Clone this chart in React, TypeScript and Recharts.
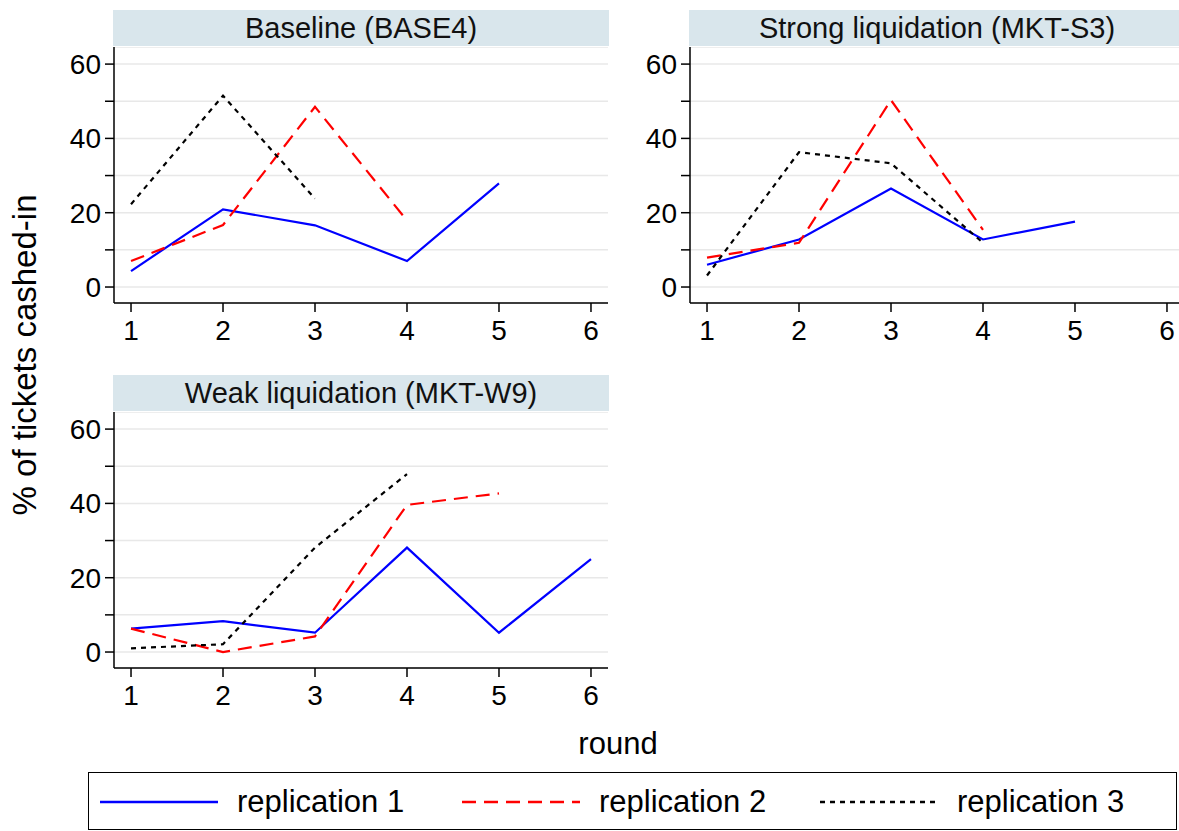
import { LineChart, Line, XAxis, YAxis, CartesianGrid } from 'recharts';

const rounds = [1, 2, 3, 4, 5, 6];

// Baseline (BASE4)
const baseRep1 = [4.3, 20.9, 16.6, 7.0, 27.9, null];
const baseRep2 = [7.0, 16.7, 48.5, 17.9, null, null];
const baseRep3 = [22.3, 51.5, 23.8, null, null, null];

// Strong liquidation (MKT-S3)
const strongRep1 = [6.0, 12.8, 26.5, 12.8, 17.6, null];
const strongRep2 = [7.9, 11.9, 50.3, 15.4, null, null];
const strongRep3 = [3.1, 36.3, 33.3, 11.9, null, null];

// Weak liquidation (MKT-W9)
const weakRep1 = [6.3, 8.3, 5.2, 28.1, 5.2, 25.0];
const weakRep2 = [6.3, 0.0, 4.2, 39.6, 42.7, null];
const weakRep3 = [1.0, 2.1, 28.1, 47.9, null, null];

const yTicks = [0, 10, 20, 30, 40, 50, 60];
const seriesNames = ['replication 1', 'replication 2', 'replication 3'];

const FONT = '"Liberation Sans", Arial, Helvetica, sans-serif';
const BLUE = '#0000ff';
const RED = '#ff0000';
const BLACK = '#000000';
const BAND = '#d9e6ec';

const makeRows = (r1: (number | null)[], r2: (number | null)[], r3: (number | null)[]) =>
  rounds.map((round, i) => ({ round, rep1: r1[i], rep2: r2[i], rep3: r3[i] }));

interface PanelProps {
  title: string;
  left: number;
  top: number;
  rows: { round: number; rep1: number | null; rep2: number | null; rep3: number | null }[];
}

const Panel = ({ title, left, top, rows }: PanelProps) => {
  const axisLeft = left + 100;
  return (
    <>
      <div
        style={{
          position: 'absolute',
          left: axisLeft - 1,
          top: top - 37,
          width: 496,
          height: 36,
          background: BAND,
          fontSize: 29,
          lineHeight: '36px',
          textAlign: 'center',
          color: '#111',
          whiteSpace: 'nowrap',
        }}
      >
        {title}
      </div>
      <div style={{ position: 'absolute', left, top }}>
        <LineChart width={594} height={306} data={rows} margin={{ top: 0, right: 0, bottom: 0, left: 0 }}>
          <CartesianGrid horizontal vertical={false} stroke="#e8e8e8" strokeWidth={1.5} />
          <XAxis
            dataKey="round"
            type="number"
            domain={[0.815, 6.185]}
            ticks={rounds}
            allowDataOverflow
            height={50}
            tickSize={9}
            tickMargin={8}
            stroke={BLACK}
            strokeWidth={1.5}
            tick={{ fill: BLACK, fontSize: 28, fontFamily: FONT }}
          />
          <YAxis
            type="number"
            domain={[-4.3, 64.6]}
            ticks={yTicks}
            allowDataOverflow
            width={100}
            tickSize={9}
            tickMargin={4}
            stroke={BLACK}
            strokeWidth={1.5}
            tickFormatter={(v: number) => (v % 20 === 0 ? String(v) : '')}
            tick={{ fill: BLACK, fontSize: 28, fontFamily: FONT }}
          />
          <Line type="linear" dataKey="rep1" stroke={BLUE} strokeWidth={2.2} dot={false} isAnimationActive={false} />
          <Line
            type="linear"
            dataKey="rep2"
            stroke={RED}
            strokeWidth={2.2}
            strokeDasharray="14 8"
            dot={false}
            isAnimationActive={false}
          />
          <Line
            type="linear"
            dataKey="rep3"
            stroke={BLACK}
            strokeWidth={2.2}
            strokeDasharray="5 5"
            dot={false}
            isAnimationActive={false}
          />
        </LineChart>
      </div>
    </>
  );
};

const LegendItem = ({ x, color, dash, label }: { x: number; color: string; dash?: string; label: string }) => (
  <div style={{ position: 'absolute', left: x, top: 1, height: 56, display: 'flex', alignItems: 'center' }}>
    <svg width={120} height={10} style={{ marginRight: 17 }}>
      <line x1={0} y1={5} x2={118} y2={5} stroke={color} strokeWidth={2.5} strokeDasharray={dash} />
    </svg>
    <span style={{ fontSize: 31, whiteSpace: 'nowrap' }}>{label}</span>
  </div>
);

export default function App() {
  return (
    <div
      style={{
        position: 'absolute',
        left: 0,
        top: 0,
        width: 1179,
        height: 831,
        background: '#fff',
        overflow: 'hidden',
        fontFamily: FONT,
        color: BLACK,
      }}
    >
      <Panel title="Baseline (BASE4)" left={14} top={47} rows={makeRows(baseRep1, baseRep2, baseRep3)} />
      <Panel title="Strong liquidation (MKT-S3)" left={590} top={47} rows={makeRows(strongRep1, strongRep2, strongRep3)} />
      <Panel title="Weak liquidation (MKT-W9)" left={14} top={412} rows={makeRows(weakRep1, weakRep2, weakRep3)} />

      <svg style={{ position: 'absolute', left: 0, top: 0 }} width={60} height={720}>
        <text
          transform="translate(36, 355) rotate(-90)"
          textAnchor="middle"
          fontSize={33}
          fontFamily={FONT}
          fill={BLACK}
        >
          % of tickets cashed-in
        </text>
      </svg>

      <div style={{ position: 'absolute', left: 518, width: 200, top: 726, textAlign: 'center', fontSize: 31 }}>round</div>

      <div
        style={{
          position: 'absolute',
          left: 88,
          top: 772,
          width: 1087,
          height: 56,
          border: '1.5px solid #000',
        }}
      >
        <LegendItem x={11} color={BLUE} label={seriesNames[0]} />
        <LegendItem x={373} color={RED} dash="14 8" label={seriesNames[1]} />
        <LegendItem x={731} color={BLACK} dash="5 5" label={seriesNames[2]} />
      </div>
    </div>
  );
}
